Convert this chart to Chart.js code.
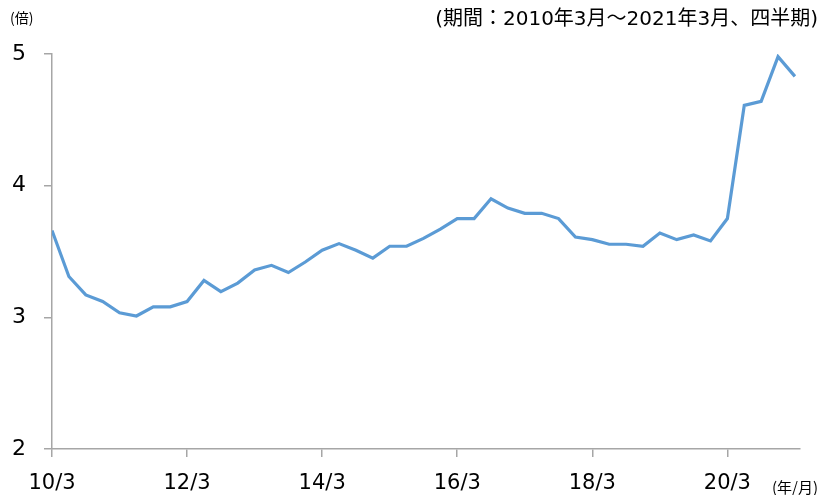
<!DOCTYPE html>
<html lang="ja">
<head>
  <meta charset="UTF-8">
  <title>倍率の推移</title>
  <script src="https://cdn.jsdelivr.net/npm/chart.js"></script>
  <style>
    body { margin: 0; background: #fff; }
    canvas { display: block; }
  </style>
</head>
<body>
  <canvas id="ratioChart" width="823" height="495"></canvas>
  <script>
    // 四半期 (2010/3 ～ 2021/3)
    const quarters = [
      '10/3', '10/6', '10/9', '10/12', '11/3', '11/6', '11/9', '11/12',
      '12/3', '12/6', '12/9', '12/12', '13/3', '13/6', '13/9', '13/12',
      '14/3', '14/6', '14/9', '14/12', '15/3', '15/6', '15/9', '15/12',
      '16/3', '16/6', '16/9', '16/12', '17/3', '17/6', '17/9', '17/12',
      '18/3', '18/6', '18/9', '18/12', '19/3', '19/6', '19/9', '19/12',
      '20/3', '20/6', '20/9', '20/12', '21/3'
    ];
    // 倍率
    const ratio = [
      3.66, 3.31, 3.17, 3.12, 3.035, 3.01, 3.08, 3.08,
      3.12, 3.28, 3.195, 3.26, 3.36, 3.395, 3.34, 3.42,
      3.51, 3.56, 3.51, 3.45, 3.54, 3.54, 3.60, 3.67,
      3.75, 3.75, 3.90, 3.83, 3.79, 3.79, 3.75, 3.61,
      3.59, 3.555, 3.555, 3.54, 3.64, 3.59, 3.625, 3.58,
      3.75, 4.61, 4.64, 4.98, 4.83
    ];
    const xTickLabels = ['10/3', '12/3', '14/3', '16/3', '18/3', '20/3'];
    const yTicks = [2, 3, 4, 5];

    const numFont = 'DejaVu Sans, Verdana, sans-serif';
    const jpFont = '"DejaVu Sans", "Noto Sans CJK JP", sans-serif';
    const axisColor = '#a6a6a6';

    // 注記テキスト
    const notes = {
      id: 'notes',
      afterDraw(chart) {
        const ctx = chart.ctx;
        ctx.save();
        ctx.fillStyle = '#000';
        ctx.textBaseline = 'middle';
        ctx.font = '14px "Noto Sans CJK JP", sans-serif';
        ctx.textAlign = 'left';
        ctx.fillText('(倍)', 10, 18);
        ctx.textAlign = 'right';
        ctx.font = '15px "Noto Sans CJK JP", sans-serif';
        ctx.fillText('(年/月)', 818, 487);
        ctx.font = '20px ' + jpFont;
        ctx.fillText('(期間：2010年3月～2021年3月、四半期)', 818, 20);
        ctx.restore();
      }
    };

    new Chart(document.getElementById('ratioChart'), {
      type: 'line',
      data: {
        datasets: [{
          data: ratio.map((v, i) => ({ x: i, y: v })),
          borderColor: '#5b9bd5',
          borderWidth: 3.2,
          pointRadius: 0,
          tension: 0,
          fill: false
        }]
      },
      options: {
        responsive: false,
        animation: false,
        layout: { padding: { top: 54, right: 23, left: 0, bottom: 0 } },
        plugins: { legend: { display: false }, tooltip: { enabled: false } },
        scales: {
          x: {
            type: 'linear',
            min: 0,
            max: 44.3,
            afterBuildTicks: s => {
              s.ticks = xTickLabels.map(l => ({ value: quarters.indexOf(l) }));
            },
            afterFit: s => { s.height = 46; },
            ticks: {
              callback: v => quarters[v],
              font: { family: numFont, size: 21 },
              color: '#000',
              padding: 14,
              maxRotation: 0
            },
            grid: { drawOnChartArea: false, tickLength: 8, color: axisColor, lineWidth: 1.5 },
            border: { color: axisColor, width: 1.5 }
          },
          y: {
            min: 2,
            max: 5,
            afterBuildTicks: s => { s.ticks = yTicks.map(v => ({ value: v })); },
            afterFit: s => { s.width = 52; },
            ticks: {
              font: { family: numFont, size: 22 },
              color: '#000',
              padding: 18
            },
            grid: { drawOnChartArea: false, tickLength: 8, color: axisColor, lineWidth: 1.5 },
            border: { color: axisColor, width: 1.5 }
          }
        }
      },
      plugins: [notes]
    });
  </script>
</body>
</html>
